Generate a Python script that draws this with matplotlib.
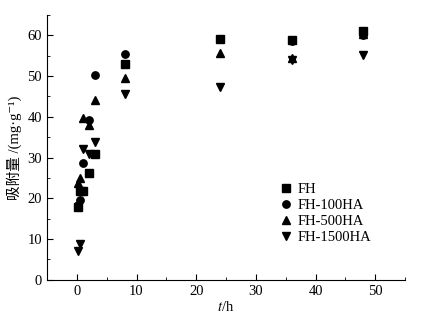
import numpy as np
import matplotlib
matplotlib.use('Agg')
from matplotlib import pyplot as plt
from matplotlib.ticker import MultipleLocator

plt.rcParams['font.family'] = ['Liberation Serif', 'Noto Sans CJK SC', 'DejaVu Serif']
plt.rcParams['mathtext.fontset'] = 'stix'

# time points (h)
t = [0.17, 0.5, 1, 2, 3, 8, 24, 36, 48]

# adsorbed amount (mg/g)
fh = [17.8, 21.7, 21.7, 26.3, 31.0, 53.0, 59.0, 58.8, 61.0]
fh100 = [18.3, 19.6, 28.6, 39.1, 50.3, 55.5, 59.0, 58.7, 60.0]
fh500 = [23.7, 24.9, 39.6, 38.1, 44.1, 49.5, 55.7, 54.5, 60.3]
fh1500 = [7.0, 8.8, 32.0, 31.0, 33.8, 45.6, 47.2, 54.0, 55.2]

series = [('FH', fh, 's'), ('FH-100HA', fh100, 'o'),
          ('FH-500HA', fh500, '^'), ('FH-1500HA', fh1500, 'v')]

fig = plt.figure(figsize=(4.33, 3.18), dpi=100)
ax = fig.add_axes([0.1085, 0.12, 0.827, 0.833])

for name, vals, m in series:
    ax.plot(t, vals, linestyle='none', marker=m, color='black',
            markersize=5.3, label=name)

ax.set_xlim(-5, 55)
ax.set_ylim(0, 65)
ax.xaxis.set_major_locator(MultipleLocator(10))
ax.xaxis.set_minor_locator(MultipleLocator(5))
ax.yaxis.set_major_locator(MultipleLocator(10))
ax.yaxis.set_minor_locator(MultipleLocator(5))
ax.tick_params(which='both', direction='in', labelsize=10.5)
ax.tick_params(which='major', length=4)
ax.tick_params(which='minor', length=2.5)
ax.spines['top'].set_visible(False)
ax.spines['right'].set_visible(False)

ax.set_xlabel('$t$/h', fontsize=10.5, labelpad=2)
# plain text so the CJK fallback works (mathtext would drop the CJK glyphs)
ax.set_ylabel('吸附量 /(mg·g\u207b\u00b9)', fontsize=10.5, labelpad=4)

ax.legend(loc='upper left', bbox_to_anchor=(0.632, 0.394), frameon=False,
          fontsize=10.5, handlelength=0.8, handletextpad=0.4,
          labelspacing=0.2, borderpad=0)

fig.savefig('out.png', dpi=100)
